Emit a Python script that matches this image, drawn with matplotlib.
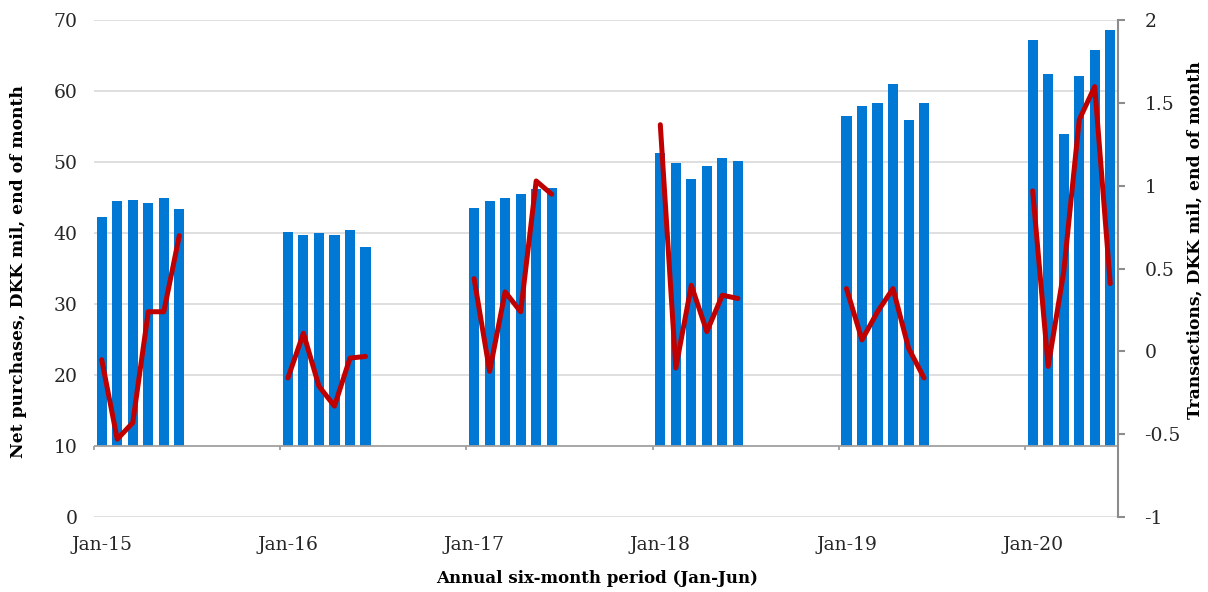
import numpy as np
import matplotlib.pyplot as plt

plt.rcParams['font.family'] = ['DejaVu Serif']

years = ['Jan-15', 'Jan-16', 'Jan-17', 'Jan-18', 'Jan-19', 'Jan-20']

# net purchases, Jan-Jun of each year (left axis)
purchases_15 = [42.3, 44.5, 44.7, 44.3, 45.0, 43.4]
purchases_16 = [40.2, 39.8, 40.0, 39.8, 40.5, 38.0]
purchases_17 = [43.6, 44.5, 45.0, 45.6, 46.2, 46.4]
purchases_18 = [51.3, 49.9, 47.7, 49.5, 50.6, 50.2]
purchases_19 = [56.5, 58.0, 58.4, 61.0, 56.0, 58.4]
purchases_20 = [67.3, 62.5, 54.0, 62.1, 65.9, 68.6]

# transactions, Jan-Jun of each year (right axis)
trans_15 = [-0.05, -0.53, -0.43, 0.24, 0.24, 0.70]
trans_16 = [-0.16, 0.11, -0.21, -0.33, -0.04, -0.03]
trans_17 = [0.44, -0.12, 0.36, 0.24, 1.03, 0.95]
trans_18 = [1.37, -0.10, 0.40, 0.12, 0.34, 0.32]
trans_19 = [0.38, 0.07, 0.24, 0.38, 0.02, -0.16]
trans_20 = [0.97, -0.09, 0.48, 1.40, 1.60, 0.41]

purchases = [purchases_15, purchases_16, purchases_17,
             purchases_18, purchases_19, purchases_20]
transactions = [trans_15, trans_16, trans_17, trans_18, trans_19, trans_20]

# monthly category axis Jan-15 .. Jun-20, Jul-Dec left empty
n_months = 12 * 5 + 6
bar_vals = np.full(n_months, np.nan)
line_vals = np.full(n_months, np.nan)
for i, (p, t) in enumerate(zip(purchases, transactions)):
    bar_vals[12 * i:12 * i + 6] = p
    line_vals[12 * i:12 * i + 6] = t
x = np.arange(n_months)

base = 10
blue = '#0078D4'
red = '#C00000'
grid_c = '#D9D9D9'
axis_c = '#A0A0A0'

fig, ax = plt.subplots(figsize=(12.08, 5.92), dpi=100)
fig.subplots_adjust(left=0.0778, right=0.9255, top=0.9655, bottom=0.1267)

ax.bar(x, bar_vals - base, bottom=base, width=0.65, color=blue, zorder=2)
ax.set_xlim(-0.5, n_months - 0.5)
ax.set_ylim(0, 70)
ax.set_yticks(np.arange(0, 71, 10))
for v in range(0, 71, 10):
    if v != base:
        ax.axhline(v, color=grid_c, lw=1.2, zorder=0)
ax.axhline(base, color=axis_c, lw=1.3, zorder=3)
# year boundary ticks on the category axis
ax.vlines(np.arange(0, n_months, 12) - 0.5, base - 0.5, base,
          color=axis_c, lw=1.3, zorder=3, clip_on=False)

ax.set_xticks(np.arange(0, n_months, 12))
ax.set_xticklabels(years)
ax.tick_params(axis='x', length=0, pad=14, labelsize=13.5, colors='#262626')
ax.tick_params(axis='y', length=0, pad=12, labelsize=13.5, colors='#262626')
for s in ax.spines.values():
    s.set_visible(False)

ax.set_xlabel('Annual six-month period (Jan-Jun)', fontsize=12,
              fontweight='bold')
ax.xaxis.set_label_coords(0.491, -0.107)
ax.set_ylabel('Net purchases, DKK mil, end of month', fontsize=12.3,
              fontweight='bold')
ax.yaxis.set_label_coords(-0.0654, 0.495)

ax2 = ax.twinx()
ax2.plot(x, line_vals, color=red, lw=3.6, solid_joinstyle='round',
         solid_capstyle='round', zorder=4)
ax2.set_ylim(-1, 2)
ax2.set_yticks([-1, -0.5, 0, 0.5, 1, 1.5, 2])
ax2.set_yticklabels(['-1', '-0.5', '0', '0.5', '1', '1.5', '2'])
for s in ['top', 'left', 'bottom']:
    ax2.spines[s].set_visible(False)
ax2.spines['right'].set_color('#8C8C8C')
ax2.spines['right'].set_linewidth(1.5)
ax2.tick_params(axis='y', length=5, width=1.5, color='#8C8C8C', pad=14,
                labelsize=13.5, labelcolor='#262626')

fig.text(0.9895, 0.595, 'Transactions, DKK mil, end of month', rotation=90,
         fontsize=12.3, fontweight='bold', ha='center', va='center')

fig.savefig('out.png', dpi=100)
